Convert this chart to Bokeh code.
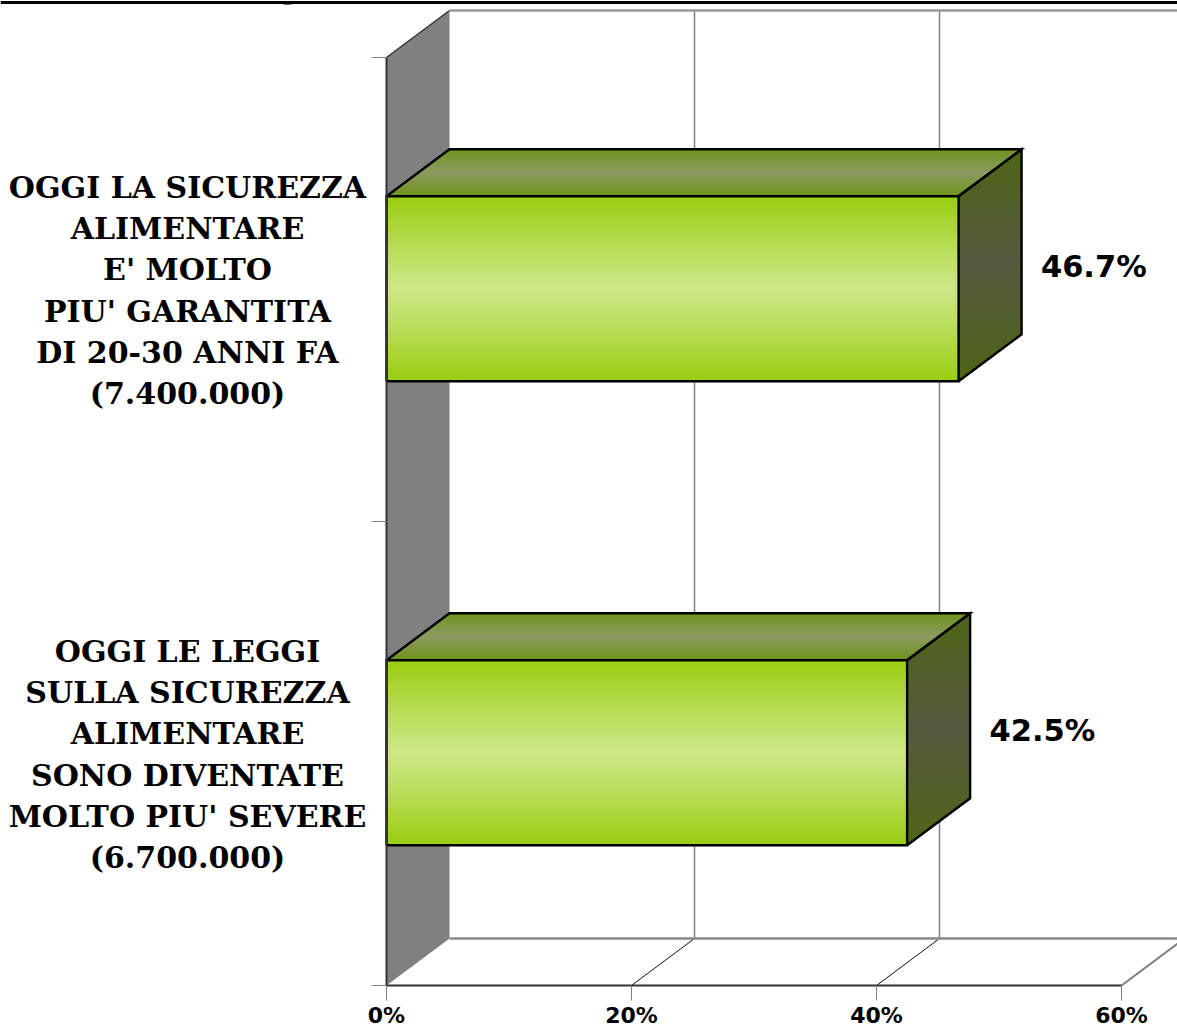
from bokeh.plotting import figure
from bokeh.embed import file_html
from bokeh.resources import INLINE
from bokeh.models import FixedTicker, PrintfTickFormatter, Range1d
from bokeh.core.properties import value

categories = ["OGGI LE LEGGI\nSULLA SICUREZZA\nALIMENTARE\nSONO DIVENTATE\nMOLTO PIU' SEVERE\n(6.700.000)",
              "OGGI LA SICUREZZA\nALIMENTARE\nE' MOLTO\nPIU' GARANTITA\nDI 20-30 ANNI FA\n(7.400.000)"]
values = [42.5, 46.7]
value_labels = ["42.5%", "46.7%"]
x_ticks = [0, 20, 40, 60]
y_ticks = [0, 1, 2]

PXX = 12.25   # pixels per percent
PXY = 464.0   # pixels per category
W, H = 1177, 1029
LEFT, BOTTOM = 386, 44
DX, DY = 63 / PXX, 47 / PXY
BAR = 185 / PXY
XMIN, XMAX = -LEFT / PXX, (W - LEFT) / PXX
YMIN, YMAX = -BOTTOM / PXY, (H - BOTTOM) / PXY
PY = 1 / PXY


def mix(c1, c2, t):
    return "#%02x%02x%02x" % tuple(round(a + (b - a) * t) for a, b in zip(c1, c2))


def band(t):
    return abs(2 * t - 1)  # 1 at the edges, 0 in the middle


FRONT = ((0x98, 0xCE, 0x10), (0xCD, 0xE6, 0x85))
TOP = ((0x6E, 0x94, 0x1E), (0x8D, 0x9A, 0x62))
SIDE = ((0x4E, 0x65, 0x16), (0x56, 0x5A, 0x40))

p = figure(width=W, height=H, output_backend="svg", toolbar_location=None,
           x_range=Range1d(XMIN, XMAX), y_range=Range1d(YMIN, YMAX),
           min_border=0,
           background_fill_color="white", border_fill_color="white", outline_line_color=None)
p.styles = {"position": "absolute", "left": "0px", "top": "0px"}
p.grid.visible = False

ax = p.xaxis[0]
ax.fixed_location = 0
ax.ticker = FixedTicker(ticks=x_ticks)
ax.bounds = (0, 60)
ax.formatter = PrintfTickFormatter(format="%d%%")
ax.axis_line_color = "#333333"
ax.axis_line_width = 2
ax.major_tick_line_color = "#808080"
ax.major_tick_line_width = 1
ax.major_tick_out = 15
ax.major_tick_in = 0
ax.minor_tick_line_color = None
ax.major_label_standoff = 2
ax.major_label_text_font = "DejaVu Sans"
ax.major_label_text_font_style = "bold"
ax.major_label_text_font_size = "22px"
ax.major_label_text_color = "black"

ay = p.yaxis[0]
ay.fixed_location = 0
ay.ticker = FixedTicker(ticks=y_ticks)
ay.bounds = (0, 2)
ay.major_label_overrides = {t: "" for t in y_ticks}
ay.axis_line_color = "#333333"
ay.axis_line_width = 2
ay.major_tick_line_color = "#808080"
ay.major_tick_line_width = 1
ay.major_tick_out = 15
ay.major_tick_in = 0
ay.minor_tick_line_color = None

for r in [ax, ay]:
    r.level = "overlay"

# side wall
p.patch([0, DX, DX, 0], [0, DY, 2 + DY, 2], fill_color="#808080", line_color=None)
p.line([0, DX], [2, 2 + DY], line_color="#333333", line_width=1.5)

# back wall gridlines and floor lines
for t in x_ticks[1:3]:
    p.line([t + DX, t + DX], [DY, 2 + DY], line_color="#808080", line_width=1.5)
    p.line([t, t + DX], [0, DY], line_color="#111111", line_width=1)
p.line([DX, XMAX], [2 + DY, 2 + DY], line_color="#999999", line_width=2.5)
p.line([DX, XMAX], [DY, DY], line_color="#888888", line_width=2.5)
p.line([60, 60 + DX], [0, DY], line_color="#808080", line_width=2)

# rule across the top of the slide, with the tail of a cut-off letter
p.line([XMIN, XMAX], [YMAX - 2 * PY, YMAX - 2 * PY], line_color="black", line_width=3)
p.line([(283 - LEFT) / PXX, (291 - LEFT) / PXX], [YMAX - 4 * PY, YMAX - 4 * PY], line_color="#777777", line_width=1)

for i, v in enumerate(values):
    yc = i + 0.5 + 0.7 * PY
    y0, y1 = yc - BAR / 2, yc + BAR / 2
    # front face
    N = 185
    for k in range(N):
        t0, t1 = k / N, (k + 1) / N
        col = mix(FRONT[1], FRONT[0], band((t0 + t1) / 2) ** 1.15)
        ya = y0 + BAR * t0
        yb = min(y1, y0 + BAR * t1 + 0.6 * PY)
        p.quad(left=0, right=v, bottom=ya, top=yb, fill_color=col, line_color=None)
    # top face
    M = 47
    for k in range(M):
        t0, t1 = k / M, (k + 1) / M
        col = mix(TOP[1], TOP[0], band((t0 + t1) / 2))
        ya, yb = y1 + DY * t0, min(y1 + DY, y1 + DY * t1 + 0.6 * PY)
        sa, sb = DX * (ya - y1) / DY, DX * (yb - y1) / DY
        p.patch([sa, v + sa, v + sb, sb], [ya, ya, yb, yb], fill_color=col, line_color=None)

    # right face, shaded by height and clipped to its parallelogram
    def xl(y):
        return v + DX * max(0.0, (y - y1) / DY)

    def xr(y):
        return v + DX * min(1.0, (y - y0) / DY)

    S = 232
    lo, hi = y0, y1 + DY
    for k in range(S):
        t0, t1 = k / S, (k + 1) / S
        col = mix(SIDE[1], SIDE[0], band((t0 + t1) / 2))
        ya, yb = lo + (hi - lo) * t0, min(hi, lo + (hi - lo) * t1 + 0.6 * PY)
        ys = sorted({ya, yb} | {q for q in (y0 + DY, y1) if ya < q < yb})
        p.patch([xl(q) for q in ys] + [xr(q) for q in reversed(ys)], ys + list(reversed(ys)),
                fill_color=col, line_color=None)
    # edges
    for xs, ys in ([0, v, v, 0, 0], [y0, y0, y1, y1, y0]), \
                  ([0, DX, v + DX, v], [y1, y1 + DY, y1 + DY, y1]), \
                  ([v, v + DX, v + DX, v], [y0, y0 + DY, y1 + DY, y1]):
        p.line(xs, ys, line_color="black", line_width=2.4, line_join="miter")

    p.text([v + DX + 1.58], [i + 0.5 + DY / 2], text=[value_labels[i]], text_font_size="30.5px",
           text_font=value("DejaVu Sans"), text_font_style="bold", text_color="black",
           text_align="left", text_baseline="middle")

    p.text([-(LEFT - 187) / PXX], [i + 0.5 - PY], text=[categories[i]],
           text_font=value("DejaVu Serif"), text_font_style="bold", text_font_size="30px",
           text_color="black", text_align="center", text_baseline="middle",
           text_line_height=1.175)

open("out.html", "w").write(file_html(p, INLINE))
